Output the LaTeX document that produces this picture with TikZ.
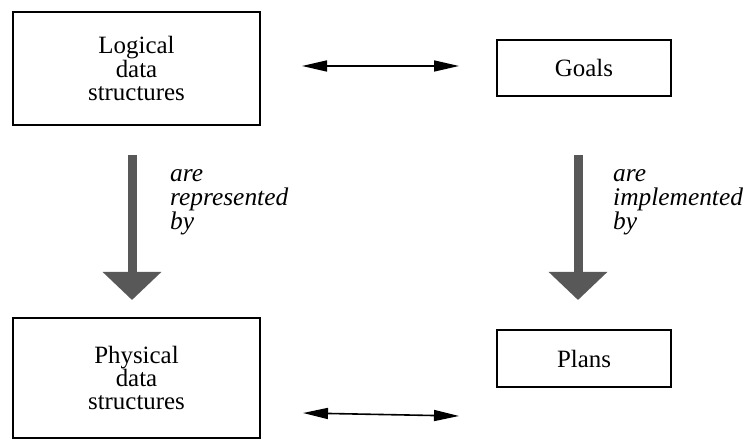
\documentclass[tikz,border=0pt]{standalone}
\usepackage{fontspec}
\setmainfont{Liberation Serif}
\usetikzlibrary{arrows.meta}
\definecolor{arrowgray}{RGB}{88,88,88}
\begin{document}
\begin{tikzpicture}[
            x=1bp,
            y=-1bp,
            box/.style={draw, line width=1.2bp, inner sep=0pt, align=center, font=\fontsize{25}{23.5}\selectfont},
            link/.style={line width=1.6bp, {Triangle[length=25bp,width=11bp]}-{Triangle[length=25bp,width=11bp]}},
            bigarrow/.style={draw=arrowgray, line width=9bp, -{Triangle[length=28bp,width=57bp]}},
            verb/.style={anchor=base west, inner sep=0pt, align=left, font=\fontsize{25.5}{24.5}\selectfont\itshape}
        ]
        \useasboundingbox (0,0) rectangle (750,440);
        \coordinate (T1) at (302,66);
        \coordinate (T2) at (459,66);
        \coordinate (B1) at (303,413);
        \coordinate (B2) at (459,416);
        \coordinate (L1) at (132,155);
        \coordinate (L2) at (132,300);
        \coordinate (R1) at (578,155);
        \coordinate (R2) at (578,300);

        \node[box, minimum width=247bp, minimum height=113bp] (logical) at (136.5,68.5) {Logical\\data\\structures};
        \node[box, minimum width=174bp, minimum height=56bp] (goals) at (584,68) {Goals};
        \node[box, minimum width=247bp, minimum height=120bp] (physical) at (136.5,378) {Physical\\data\\structures};
        \node[box, minimum width=174bp, minimum height=57bp] (plans) at (584,358.5) {Plans};

        \draw[link] (T1) -- (T2);
        \draw[link] (B1) -- (B2);
        \draw[bigarrow] (L1) -- (L2);
        \draw[bigarrow] (R1) -- (R2);
        \node[verb] (represented) at (170,230) {are\\represented\\by};
        \node[verb] (implemented) at (613,230) {are\\implemented\\by};
    \end{tikzpicture}
\end{document}
